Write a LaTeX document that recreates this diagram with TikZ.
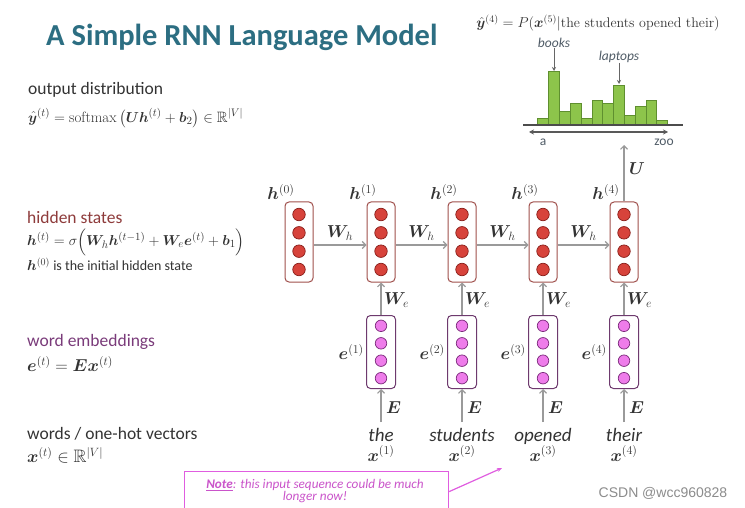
\documentclass[tikz,border=0pt]{standalone}
\usepackage{amsmath,amssymb,bm}
\usepackage{fontspec}
\newfontfamily\calfont{Carlito}
\newfontfamily\wmfont{Liberation Sans}
\usetikzlibrary{arrows.meta}
\definecolor{titleblue}{HTML}{2C6E82}
\definecolor{hiddenred}{HTML}{8E3B3B}
\definecolor{embedpurple}{HTML}{7A3B7A}
\definecolor{hborder}{HTML}{A0504C}
\definecolor{hfill}{HTML}{D7433B}
\definecolor{hdraw}{HTML}{8A1F1A}
\definecolor{eborder}{HTML}{6E3A6E}
\definecolor{efill}{HTML}{EE7CEA}
\definecolor{edraw}{HTML}{7B2A7B}
\definecolor{arrowgray}{HTML}{9A9A9A}
\definecolor{barfill}{HTML}{8DC44B}
\definecolor{bardraw}{HTML}{5F8F2F}
\definecolor{notemag}{HTML}{E05DE0}
\definecolor{histlab}{HTML}{4F5B66}
\definecolor{textgray}{HTML}{333333}
\begin{document}
\begin{tikzpicture}[x=1pt,y=-1pt,
  hbox/.style={draw=hborder, rounded corners=4pt, line width=1pt, minimum width=28pt, minimum height=80pt, inner sep=0pt},
  hdot/.style={circle, draw=hdraw, fill=hfill, minimum size=12.5pt, inner sep=0pt, line width=0.7pt},
  ebox/.style={draw=eborder, rounded corners=4pt, line width=1pt, minimum width=29pt, minimum height=73pt, inner sep=0pt},
  edot/.style={circle, draw=edraw, fill=efill, minimum size=11.5pt, inner sep=0pt, line width=0.7pt},
  conn/.style={draw=arrowgray, line width=1.1pt, -{Straight Barb[length=3.5pt,width=7pt]}},
  mathlab/.style={inner sep=0pt, text=textgray, font=\fontsize{17}{19}\selectfont},
  biglab/.style={inner sep=0pt, text=textgray, font=\fontsize{18}{20}\selectfont},
  wordlab/.style={inner sep=0pt, text=textgray, font=\calfont\itshape\fontsize{19}{21}\selectfont},
  sidehead/.style={anchor=west, inner sep=0pt, font=\calfont\fontsize{17.5}{19}\selectfont},
  sideform/.style={anchor=west, inner sep=0pt, text=textgray, font=\fontsize{15}{17}\selectfont},
  bar/.style={draw=bardraw, fill=barfill, line width=0.7pt},
  histtxt/.style={inner sep=0pt, text=histlab, font=\calfont\fontsize{13.5}{15}\selectfont}
]
\useasboundingbox (0,0) rectangle (745,508);
\fill[white] (0,0) rectangle (745,508);

% title
\node[anchor=west, inner sep=0pt, text=titleblue, font=\calfont\bfseries\fontsize{30.5}{32}\selectfont] (title) at (46,37) {A Simple RNN Language Model};

% left descriptions
\node[sidehead, text=textgray] (outhead) at (28,90) {output distribution};
\node[sideform] (outform) at (28,118) {$\hat{\bm{y}}^{(t)} = \mathrm{softmax}\left(\bm{U}\bm{h}^{(t)} + \bm{b}_2\right) \in \mathbb{R}^{|V|}$};
\node[sidehead, text=hiddenred] (hidhead) at (27,217) {hidden states};
\node[sideform] (hidform) at (27,242) {$\bm{h}^{(t)} = \sigma\Big(\bm{W}_h\bm{h}^{(t-1)} + \bm{W}_e\bm{e}^{(t)} + \bm{b}_1\Big)$};
\node[anchor=west, inner sep=0pt, text=textgray, font=\calfont\fontsize{14}{16}\selectfont] (hidinit) at (27,264) {$\bm{h}^{(0)}$ is the initial hidden state};
\node[sidehead, text=embedpurple] (embhead) at (27,342) {word embeddings};
\node[sideform, font=\fontsize{18}{20}\selectfont] (embform) at (27,364) {$\bm{e}^{(t)} = \bm{E}\bm{x}^{(t)}$};
\node[sidehead, text=textgray] (wordhead) at (27,434) {words / one-hot vectors};
\node[sideform, font=\fontsize{18}{20}\selectfont] (wordform) at (27,455) {$\bm{x}^{(t)} \in \mathbb{R}^{|V|}$};

% hidden states
\foreach \i/\x in {0/299,1/381,2/462,3/543,4/624} {
  \node[hbox] (h\i) at (\x,242) {};
  \foreach \j/\dy in {1/-27.5,2/-9.2,3/9.2,4/27.5}
    \node[hdot] (h\i d\j) at ({\x},{242+(\dy)}) {};
  \node[mathlab] (lh\i) at ({\x-18},192) {$\bm{h}^{(\i)}$};
}

% recurrent arrows
\foreach \i/\j in {0/1,1/2,2/3,3/4}
  \draw[conn] ([yshift=-3pt]h\i.east) -- ([yshift=-3pt]h\j.west)
    node[midway, yshift=12pt, biglab] (wh\i) {$\bm{W}_h$};

% embeddings, words
\foreach \i/\x/\w in {1/381/the,2/462/students,3/543/opened,4/624/their} {
  \node[ebox] (e\i) at (\x,352) {};
  \foreach \j/\dy in {1/-26.2,2/-8.7,3/8.7,4/26.2}
    \node[edot] (e\i d\j) at ({\x},{352+(\dy)}) {};
  \node[mathlab, anchor=east] (le\i) at ([xshift=-2pt]e\i.west) {$\bm{e}^{(\i)}$};
  \draw[conn] (e\i) -- (h\i);
  \node[mathlab, anchor=west] (we\i) at ({\x+3},300) {$\bm{W}_e$};
  \coordinate (s\i) at (\x,422);
  \draw[conn] (s\i) -- (e\i);
  \node[mathlab, anchor=west] (lE\i) at ({\x+5},408) {$\bm{E}$};
  \node[wordlab, anchor=base] (w\i) at (\x,441) {\w};
  \node[mathlab, anchor=base] (x\i) at (\x,461) {$\bm{x}^{(\i)}$};
}

% output
\coordinate (utip) at (624,145);
\draw[conn] (h4) -- (utip);
\node[biglab] (ulab) at (637,169) {$\bm{U}$};

% histogram
\node[inner sep=0pt, text=textgray, font=\fontsize{14}{16}\selectfont] (yhat) at (598,23) {$\hat{\bm{y}}^{(4)} = P(\bm{x}^{(5)}|\text{the students opened their})$};
\foreach \h [count=\i from 0] in {6.7,53.3,13.3,21.7,6.7,24.3,21.7,40,10,18.3,24.3,4.3}
  \draw[bar] ({537.7+\i*10.83},125) rectangle ++(10.83,-\h);
\draw[draw=black!70, line width=1.4pt] (523,125) -- (683,125);
\draw[draw=black!65, line width=1.3pt, {Stealth[length=5pt,width=5pt]}-{Stealth[length=5pt,width=5pt]}] (529,132) -- (668,132);
\node[histtxt] (ha) at (543,142) {a};
\node[histtxt] (hzoo) at (664,142) {zoo};
\node[histtxt, font=\calfont\itshape\fontsize{13.5}{15}\selectfont] (books) at (554,43) {books};
\node[histtxt, font=\calfont\itshape\fontsize{13.5}{15}\selectfont] (laptops) at (619,57) {laptops};
\coordinate (bookstip) at (554,71);
\coordinate (laptip) at (619,84);
\draw[black!60, line width=0.7pt, -{Stealth[length=4pt,width=4pt]}] (books) -- (bookstip);
\draw[black!60, line width=0.7pt, -{Stealth[length=4pt,width=4pt]}] (laptops) -- (laptip);

% note
\node[draw=notemag, line width=1.2pt, minimum width=264pt, minimum height=50pt, anchor=north west, inner sep=0pt] (note) at (184,471) {};
\node[inner sep=0pt, align=center, text=notemag!90!black, font=\calfont\itshape\fontsize{13.2}{12.5}\selectfont] (notetext) at (315,491) {{\bfseries\underline{Note}}: this input sequence could be much\\longer now!};
\coordinate (notetip) at (502,468);
\draw[notemag, line width=1.2pt, -{Stealth[length=5pt,width=4pt]}] ([yshift=5pt]note.east) -- (notetip);

% watermark
\node[inner sep=0pt, text=black!45, font=\wmfont\fontsize{14}{16}\selectfont] (wm) at (663,493) {CSDN @wcc960828};
\end{tikzpicture}
\end{document}
